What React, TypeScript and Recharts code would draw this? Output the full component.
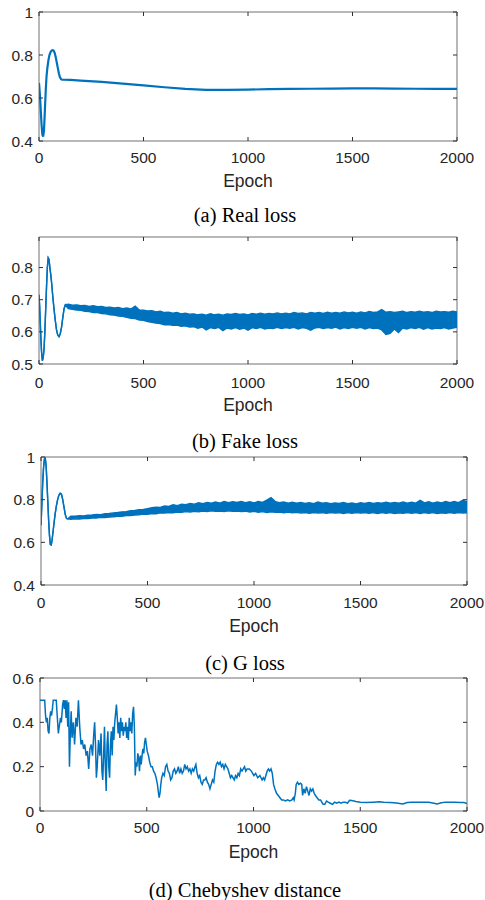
import React from 'react';
import { ComposedChart, Line, Area, XAxis, YAxis, ReferenceArea } from 'recharts';

const BLUE = '#0072BD';
const SANS = '"Liberation Sans", Arial, Helvetica, sans-serif';
const SERIF = '"Liberation Serif", "Times New Roman", serif';

const epochTicks = [0, 500, 1000, 1500, 2000];

// (a) Real loss
const realEpochs = [0, 4, 8, 12, 16, 20, 24, 28, 32, 36, 40, 45, 50, 55, 60, 65, 70, 75, 80, 85, 90, 95, 100, 105, 110, 120, 150, 200, 300, 400, 500, 600, 700, 800, 900, 1000, 1100, 1200, 1300, 1400, 1500, 1600, 1700, 1800, 1900, 2000];
const realLoss = [0.67, 0.62, 0.55, 0.48, 0.43, 0.42, 0.45, 0.54, 0.63, 0.7, 0.74, 0.775, 0.8, 0.813, 0.82, 0.822, 0.82, 0.81, 0.79, 0.765, 0.74, 0.715, 0.697, 0.688, 0.685, 0.685, 0.684, 0.681, 0.675, 0.667, 0.659, 0.65, 0.642, 0.638, 0.638, 0.639, 0.641, 0.642, 0.643, 0.644, 0.645, 0.645, 0.644, 0.643, 0.642, 0.642];
const realTicks = [0.4, 0.6, 0.8, 1];

// band epochs: 140, 160, ..., 2000
const BAND_START = 140;
const BAND_STEP = 20;

// (b) Fake loss
const fakeEarlyEpochs = [0, 3, 6, 9, 12, 16, 20, 24, 28, 32, 36, 40, 44, 48, 52, 56, 60, 66, 72, 78, 84, 90, 96, 102, 108, 114, 120, 126];
const fakeEarlyLoss = [0.715, 0.68, 0.63, 0.58, 0.54, 0.51, 0.52, 0.545, 0.6, 0.67, 0.74, 0.8, 0.83, 0.825, 0.8, 0.78, 0.755, 0.71, 0.67, 0.635, 0.605, 0.59, 0.585, 0.595, 0.615, 0.645, 0.672, 0.684];
const fakeBandHigh = [
  0.686, 0.683, 0.684, 0.681, 0.682, 0.679, 0.681, 0.678, 0.679, 0.676,
  0.677, 0.674, 0.676, 0.672, 0.674, 0.671, 0.68, 0.668, 0.667, 0.665,
  0.666, 0.662, 0.664, 0.66, 0.661, 0.658, 0.66, 0.656, 0.658, 0.655,
  0.656, 0.653, 0.655, 0.652, 0.656, 0.653, 0.655, 0.652, 0.656, 0.654,
  0.657, 0.654, 0.656, 0.653, 0.657, 0.655, 0.658, 0.655, 0.657, 0.656,
  0.659, 0.656, 0.658, 0.656, 0.66, 0.657, 0.659, 0.656, 0.66, 0.658,
  0.66, 0.657, 0.661, 0.658, 0.66, 0.658, 0.662, 0.659, 0.661, 0.658,
  0.662, 0.659, 0.663, 0.66, 0.662, 0.669, 0.661, 0.663, 0.66, 0.662,
  0.664, 0.66, 0.663, 0.661, 0.664, 0.661, 0.663, 0.66, 0.664, 0.662,
  0.663, 0.661, 0.664, 0.662,
];
const fakeBandLow = [
  0.672, 0.67, 0.668, 0.667, 0.664, 0.663, 0.66, 0.66, 0.657, 0.656,
  0.653, 0.652, 0.649, 0.648, 0.645, 0.642, 0.641, 0.637, 0.636, 0.632,
  0.63, 0.627, 0.626, 0.622, 0.623, 0.62, 0.621, 0.617, 0.619, 0.615,
  0.616, 0.611, 0.615, 0.606, 0.613, 0.61, 0.614, 0.604, 0.612, 0.609,
  0.613, 0.608, 0.612, 0.605, 0.613, 0.61, 0.614, 0.609, 0.612, 0.61,
  0.614, 0.61, 0.613, 0.611, 0.614, 0.609, 0.613, 0.611, 0.605, 0.612,
  0.614, 0.61, 0.613, 0.611, 0.615, 0.609, 0.613, 0.61, 0.614, 0.611,
  0.614, 0.609, 0.613, 0.61, 0.612, 0.606, 0.592, 0.595, 0.609, 0.598,
  0.612, 0.609, 0.613, 0.61, 0.614, 0.608, 0.613, 0.609, 0.612, 0.61,
  0.613, 0.609, 0.612, 0.614,
];
const fakeTicks = [0.5, 0.6, 0.7, 0.8];

// (c) G loss
const gEarlyEpochs = [0, 4, 8, 12, 16, 20, 24, 28, 32, 36, 40, 44, 48, 52, 56, 60, 66, 72, 78, 84, 90, 96, 102, 108, 114, 120, 126];
const gEarlyLoss = [0.68, 0.78, 0.88, 0.95, 0.99, 0.995, 0.96, 0.88, 0.79, 0.7, 0.63, 0.59, 0.588, 0.61, 0.645, 0.68, 0.73, 0.77, 0.8, 0.82, 0.83, 0.826, 0.8, 0.765, 0.73, 0.712, 0.71];
const gBandHigh = [
  0.723, 0.722, 0.725, 0.724, 0.727, 0.728, 0.731, 0.73, 0.734, 0.735,
  0.738, 0.74, 0.743, 0.744, 0.748, 0.749, 0.753, 0.754, 0.758, 0.762,
  0.765, 0.764, 0.77, 0.768, 0.776, 0.772, 0.779, 0.776, 0.782, 0.779,
  0.786, 0.781, 0.787, 0.783, 0.789, 0.784, 0.792, 0.786, 0.79, 0.787,
  0.792, 0.786, 0.79, 0.785, 0.791, 0.787, 0.798, 0.81, 0.791, 0.786,
  0.789, 0.784, 0.788, 0.783, 0.787, 0.782, 0.786, 0.781, 0.789, 0.783,
  0.786, 0.781, 0.785, 0.782, 0.787, 0.781, 0.784, 0.78, 0.786, 0.782,
  0.787, 0.782, 0.786, 0.783, 0.788, 0.783, 0.787, 0.784, 0.789, 0.783,
  0.788, 0.784, 0.797, 0.785, 0.79, 0.784, 0.789, 0.785, 0.791, 0.786,
  0.792, 0.786, 0.797, 0.79,
];
const gBandLow = [
  0.708, 0.71, 0.709, 0.712, 0.711, 0.714, 0.714, 0.717, 0.716, 0.719,
  0.72, 0.722, 0.722, 0.725, 0.726, 0.728, 0.729, 0.732, 0.731, 0.735,
  0.734, 0.738, 0.737, 0.74, 0.739, 0.742, 0.741, 0.744, 0.742, 0.745,
  0.743, 0.747, 0.744, 0.748, 0.745, 0.747, 0.744, 0.748, 0.745, 0.747,
  0.744, 0.746, 0.742, 0.745, 0.741, 0.744, 0.74, 0.743, 0.741, 0.742,
  0.739, 0.742, 0.738, 0.741, 0.737, 0.74, 0.736, 0.74, 0.737, 0.739,
  0.736, 0.74, 0.737, 0.739, 0.735, 0.739, 0.736, 0.74, 0.737, 0.739,
  0.736, 0.739, 0.735, 0.739, 0.736, 0.74, 0.735, 0.738, 0.736, 0.739,
  0.736, 0.74, 0.735, 0.739, 0.736, 0.739, 0.735, 0.738, 0.736, 0.739,
  0.736, 0.74, 0.737, 0.739,
];
const gTicks = [0.4, 0.6, 0.8, 1];

// (d) Chebyshev distance: [epoch, value]
const chebyshevPoints: [number, number][] = [
  [0, 0.5], [22, 0.5], [26, 0.43], [30, 0.4], [34, 0.42], [38, 0.36], [42, 0.35], [46, 0.42], [50, 0.45], [54, 0.43],
  [58, 0.46], [62, 0.5], [70, 0.5], [76, 0.5], [80, 0.44], [86, 0.35], [90, 0.38], [96, 0.42], [100, 0.4], [106, 0.48],
  [110, 0.5], [114, 0.46], [118, 0.5], [122, 0.42], [126, 0.5], [130, 0.38], [134, 0.49], [138, 0.2], [142, 0.35], [146, 0.45],
  [150, 0.33], [156, 0.4], [162, 0.3], [168, 0.42], [174, 0.38], [180, 0.5], [186, 0.38], [192, 0.3], [198, 0.32], [204, 0.28],
  [210, 0.3], [216, 0.25], [222, 0.27], [228, 0.19], [234, 0.28], [240, 0.3], [246, 0.25], [252, 0.35], [256, 0.4], [260, 0.3],
  [264, 0.15], [268, 0.2], [274, 0.32], [280, 0.25], [286, 0.35], [290, 0.18], [294, 0.14], [298, 0.25], [302, 0.38], [306, 0.2],
  [310, 0.09], [314, 0.3], [318, 0.36], [322, 0.2], [326, 0.15], [330, 0.3], [334, 0.36], [338, 0.25], [342, 0.38], [346, 0.32],
  [350, 0.4], [354, 0.44], [358, 0.48], [362, 0.42], [366, 0.35], [370, 0.4], [374, 0.33], [378, 0.42], [382, 0.36], [386, 0.4],
  [390, 0.34], [394, 0.38], [398, 0.36], [402, 0.4], [406, 0.33], [410, 0.38], [414, 0.32], [418, 0.42], [422, 0.36], [426, 0.4],
  [430, 0.35], [434, 0.44], [438, 0.47], [442, 0.38], [446, 0.16], [450, 0.22], [454, 0.2], [458, 0.26], [462, 0.24], [466, 0.18],
  [470, 0.25], [474, 0.21], [478, 0.25], [482, 0.28], [486, 0.26], [490, 0.31], [494, 0.33], [498, 0.3], [502, 0.27], [508, 0.25],
  [514, 0.22], [520, 0.2], [526, 0.2], [532, 0.18], [538, 0.17], [544, 0.15], [550, 0.12], [555, 0.08], [558, 0.06], [562, 0.08],
  [566, 0.12], [570, 0.15], [576, 0.17], [582, 0.16], [588, 0.2], [594, 0.21], [600, 0.18], [606, 0.17], [612, 0.14], [618, 0.15],
  [624, 0.18], [630, 0.19], [636, 0.17], [642, 0.18], [648, 0.2], [654, 0.17], [660, 0.19], [666, 0.17], [672, 0.18], [678, 0.21],
  [684, 0.19], [690, 0.2], [696, 0.18], [702, 0.19], [708, 0.17], [714, 0.19], [720, 0.18], [726, 0.2], [730, 0.21], [736, 0.17],
  [742, 0.15], [748, 0.16], [754, 0.13], [760, 0.12], [766, 0.14], [772, 0.14], [778, 0.15], [784, 0.13], [790, 0.12], [796, 0.1],
  [802, 0.12], [808, 0.14], [814, 0.13], [820, 0.18], [826, 0.21], [832, 0.22], [838, 0.21], [844, 0.22], [850, 0.2], [856, 0.21],
  [862, 0.19], [868, 0.21], [874, 0.2], [880, 0.19], [886, 0.17], [892, 0.15], [898, 0.16], [904, 0.15], [910, 0.14], [916, 0.16],
  [922, 0.15], [928, 0.17], [934, 0.16], [940, 0.19], [946, 0.18], [952, 0.19], [958, 0.2], [964, 0.18], [970, 0.19], [980, 0.19],
  [990, 0.18], [996, 0.17], [1002, 0.16], [1010, 0.17], [1020, 0.15], [1030, 0.16], [1040, 0.14], [1046, 0.15], [1052, 0.14], [1058, 0.16],
  [1064, 0.18], [1070, 0.19], [1076, 0.18], [1082, 0.19], [1088, 0.17], [1094, 0.12], [1100, 0.1], [1108, 0.08], [1116, 0.07], [1124, 0.06],
  [1132, 0.05], [1140, 0.05], [1150, 0.045], [1160, 0.05], [1170, 0.045], [1180, 0.05], [1186, 0.06], [1190, 0.05], [1196, 0.08], [1200, 0.12],
  [1206, 0.13], [1212, 0.12], [1220, 0.125], [1226, 0.12], [1230, 0.07], [1236, 0.1], [1242, 0.08], [1248, 0.11], [1254, 0.09], [1260, 0.07],
  [1266, 0.1], [1272, 0.09], [1278, 0.1], [1284, 0.08], [1290, 0.07], [1298, 0.06], [1306, 0.05], [1314, 0.05], [1320, 0.04], [1326, 0.03],
  [1334, 0.03], [1342, 0.045], [1350, 0.04], [1360, 0.035], [1370, 0.03], [1380, 0.04], [1390, 0.035], [1400, 0.04], [1410, 0.035], [1420, 0.04],
  [1430, 0.04], [1440, 0.035], [1450, 0.048], [1460, 0.047], [1480, 0.043], [1500, 0.04], [1530, 0.038], [1560, 0.04], [1590, 0.042], [1610, 0.04],
  [1640, 0.038], [1670, 0.036], [1700, 0.032], [1720, 0.038], [1740, 0.04], [1780, 0.04], [1820, 0.039], [1840, 0.036], [1860, 0.032], [1880, 0.037],
  [1900, 0.04], [1940, 0.04], [1970, 0.038], [1985, 0.038], [2000, 0.034],
];
const chebTicks = [0, 0.2, 0.4, 0.6];

const captions = ['(a) Real loss', '(b) Fake loss', '(c) G loss', '(d) Chebyshev distance'];

function bandRows(earlyE: number[], earlyV: number[], lo: number[], hi: number[]) {
  const rows: { x: number; r: [number, number] }[] = earlyE.map((x, i) => ({ x, r: [earlyV[i], earlyV[i]] }));
  lo.forEach((l, i) => rows.push({ x: BAND_START + BAND_STEP * i, r: [l, hi[i]] }));
  return rows;
}

const realData = realEpochs.map((x, i) => ({ x, v: realLoss[i] }));
const fakeData = bandRows(fakeEarlyEpochs, fakeEarlyLoss, fakeBandLow, fakeBandHigh);
const gData = bandRows(gEarlyEpochs, gEarlyLoss, gBandLow, gBandHigh);
const chebData = chebyshevPoints.map(([x, v]) => ({ x, v }));

type PanelProps = {
  left: number; right: number; top: number; bottom: number;
  yDomain: [number, number]; yTicks: number[]; xTickBase: number;
  data: any[]; children: React.ReactNode;
};

const W = 485;
const M_TOP = 10;
const X_H = 34;
const BOX = '#707070';
const TICK_C = '#303030';
const TXT = '#262626';
const TL = 4;

function Panel({ left, right, top, bottom, yDomain, yTicks, xTickBase, data, children }: PanelProps) {
  const H = M_TOP + (bottom - top) + X_H;
  const originY = top - M_TOP;
  const plotTop = M_TOP;
  const plotBottom = M_TOP + (bottom - top);
  const xTick = (p: any) => {
    const cx = p.payload?.coordinate ?? p.x;
    return (
      <g>
        <line x1={cx} x2={cx} y1={plotBottom} y2={plotBottom - TL} stroke={TICK_C} strokeWidth={1} />
        <line x1={cx} x2={cx} y1={plotTop} y2={plotTop + TL} stroke={TICK_C} strokeWidth={1} />
        <text x={cx} y={xTickBase - originY} textAnchor="middle" fontFamily={SANS} fontSize={15.5} fill={TXT}>
          {p.payload.value}
        </text>
      </g>
    );
  };
  const yTick = (p: any) => {
    const cy = p.payload?.coordinate ?? p.y;
    return (
      <g>
        <line x1={left} x2={left + TL} y1={cy} y2={cy} stroke={TICK_C} strokeWidth={1} />
        <line x1={right - TL} x2={right} y1={cy} y2={cy} stroke={TICK_C} strokeWidth={1} />
        <text x={left - 6} y={cy + 5.6} textAnchor="end" fontFamily={SANS} fontSize={15.5} fill={TXT}>
          {String(p.payload.value)}
        </text>
      </g>
    );
  };
  return (
    <div style={{ position: 'absolute', left: 0, top: originY, width: W, height: H }}>
      <ComposedChart width={W} height={H} data={data} margin={{ top: M_TOP, right: W - right, bottom: 0, left: 0 }}>
        <XAxis xAxisId="b" dataKey="x" type="number" orientation="bottom" domain={[0, 2000]} ticks={epochTicks} interval={0}
          allowDataOverflow height={X_H} axisLine={false} tickLine={false} tick={xTick} />
        <YAxis yAxisId="l" type="number" orientation="left" domain={yDomain} ticks={yTicks} interval={0}
          allowDataOverflow width={left} axisLine={false} tickLine={false} tick={yTick} />
        <ReferenceArea xAxisId="b" yAxisId="l" x1={0} x2={2000} y1={yDomain[0]} y2={yDomain[1]}
          fill="none" fillOpacity={0} stroke={BOX} strokeWidth={1} ifOverflow="visible" />
        {children}
      </ComposedChart>
    </div>
  );
}

const panels = [
  { left: 39, right: 457, top: 12, bottom: 141, xTickBase: 162.7, epochBase: 187, captionBase: 222 },
  { left: 39, right: 457, top: 237, bottom: 364, xTickBase: 388, epochBase: 410.7, captionBase: 447.7 },
  { left: 41, right: 467, top: 457, bottom: 585, xTickBase: 608.3, epochBase: 632.3, captionBase: 670 },
  { left: 40, right: 467, top: 678, bottom: 811, xTickBase: 833.3, epochBase: 857.7, captionBase: 896.7 },
];

export default function App() {
  const [pa, pb, pc, pd] = panels;
  return (
    <div style={{ position: 'absolute', left: 0, top: 0, width: W, height: 900, background: '#ffffff' }}>
      <Panel {...pa} yDomain={[0.4, 1]} yTicks={realTicks} data={realData}>
        <Line xAxisId="b" yAxisId="l" type="linear" dataKey="v" stroke={BLUE} strokeWidth={2.2} dot={false} isAnimationActive={false} />
      </Panel>
      <Panel {...pb} yDomain={[0.5, 0.895]} yTicks={fakeTicks} data={fakeData}>
        <Area xAxisId="b" yAxisId="l" type="linear" dataKey="r" stroke={BLUE} strokeWidth={1.4} fill={BLUE} fillOpacity={1} dot={false} activeDot={false} isAnimationActive={false} />
      </Panel>
      <Panel {...pc} yDomain={[0.4, 1]} yTicks={gTicks} data={gData}>
        <Area xAxisId="b" yAxisId="l" type="linear" dataKey="r" stroke={BLUE} strokeWidth={1.4} fill={BLUE} fillOpacity={1} dot={false} activeDot={false} isAnimationActive={false} />
      </Panel>
      <Panel {...pd} yDomain={[0, 0.6]} yTicks={chebTicks} data={chebData}>
        <Line xAxisId="b" yAxisId="l" type="linear" dataKey="v" stroke={BLUE} strokeWidth={1.5} dot={false} isAnimationActive={false} />
      </Panel>
      <svg width={W} height={900} style={{ position: 'absolute', left: 0, top: 0, pointerEvents: 'none' }}>
        {panels.map((p, i) => (
          <g key={i}>
            <text x={(p.left + p.right) / 2} y={p.epochBase} textAnchor="middle" fontFamily={SANS} fontSize={17.5} fill={TXT}>Epoch</text>
            <text x={245} y={p.captionBase} textAnchor="middle" fontFamily={SERIF} fontSize={20.5} fill="#000000">{captions[i]}</text>
          </g>
        ))}
      </svg>
    </div>
  );
}
